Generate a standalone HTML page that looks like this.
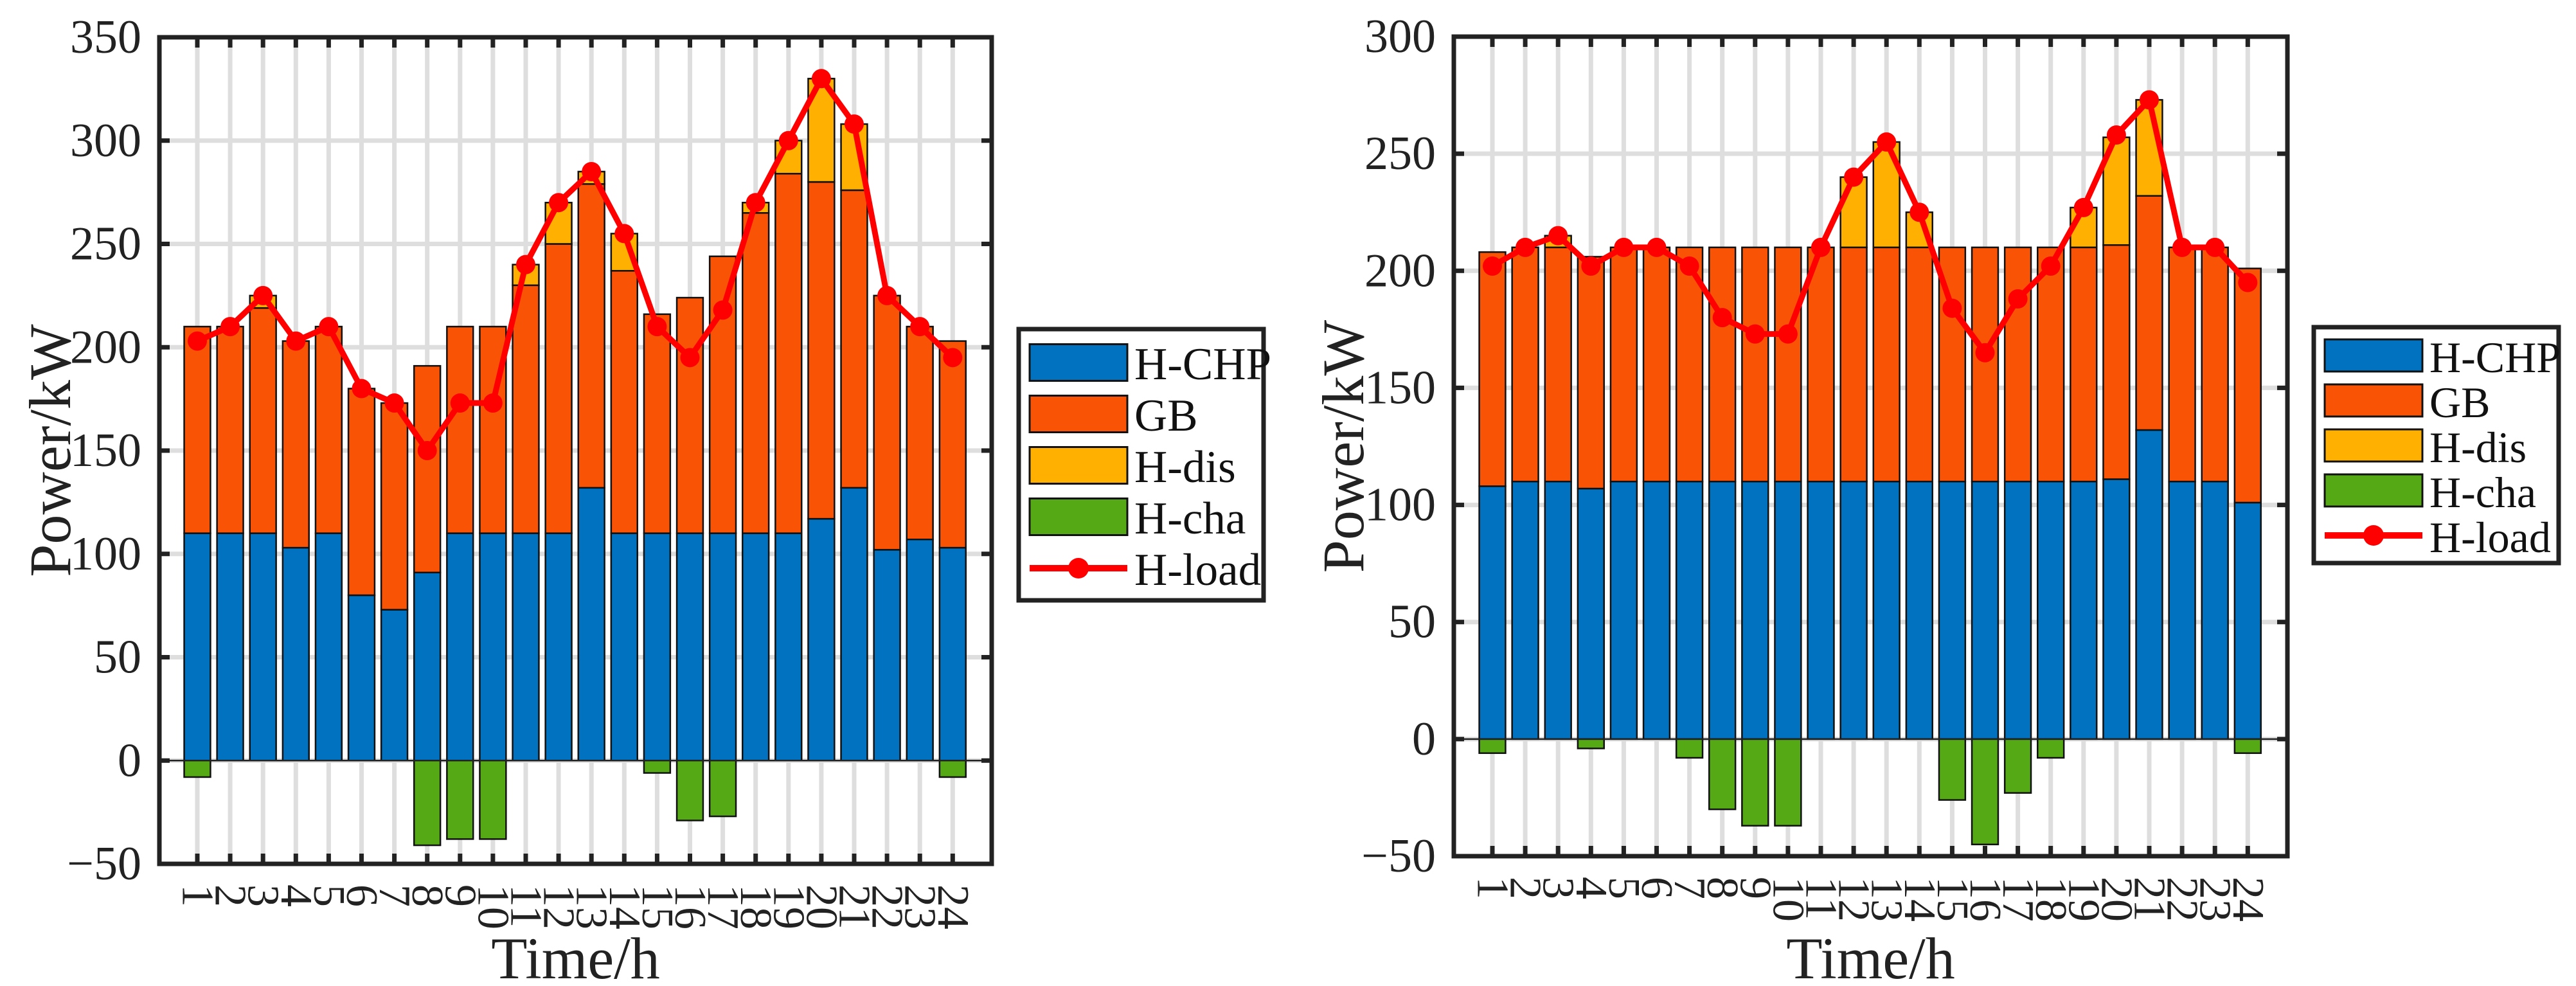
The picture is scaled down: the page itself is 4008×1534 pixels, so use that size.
<!DOCTYPE html>
<html><head><meta charset="utf-8"><style>
html,body{margin:0;padding:0;background:#fff;}
svg{display:block;font-family:"Liberation Serif",serif;}
</style></head><body>
<svg id="fig" width="4008" height="1534" xmlns="http://www.w3.org/2000/svg"></svg>
<script>
const hours = [1,2,3,4,5,6,7,8,9,10,11,12,13,14,15,16,17,18,19,20,21,22,23,24];
const seriesNames = ["H-CHP","GB","H-dis","H-cha","H-load"];
// Left chart
const chpA = [110,110,110,103,110,80,73,91,110,110,110,110,132,110,110,110,110,110,110,117,132,102,107,103];
const gbA  = [100,100,109,100,100,100,100,100,100,100,120,140,147,127,106,114,134,155,174,163,144,123,103,100];
const disA = [0,0,6,0,0,0,0,0,0,0,10,20,6,18,0,0,0,5,16,50,32,0,0,0];
const chaA = [-8,0,0,0,0,0,0,-41,-38,-38,0,0,0,0,-6,-29,-27,0,0,0,0,0,0,-8];
const loadA = [203,210,225,203,210,180,173,150,173,173,240,270,285,255,210,195,218,270,300,330,308,225,210,195];
const yTicksA = [-50,0,50,100,150,200,250,300,350];
// Right chart
const chpB = [108,110,110,107,110,110,110,110,110,110,110,110,110,110,110,110,110,110,110,111,132,110,110,101];
const gbB  = [100,100,100,99,100,100,100,100,100,100,100,100,100,100,100,100,100,100,100,100,100,100,100,100];
const disB = [0,0,5,0,0,0,0,0,0,0,0,30,45,15,0,0,0,0,17,46,41,0,0,0];
const chaB = [-6,0,0,-4,0,0,-8,-30,-37,-37,0,0,0,0,-26,-45,-23,-8,0,0,0,0,0,-6];
const loadB = [202,210,215,202,210,210,202,180,173,173,210,240,255,225,184,165,188,202,227,258,273,210,210,195];
const yTicksB = [-50,0,50,100,150,200,250,300];

const NS="http://www.w3.org/2000/svg";
const svg=document.getElementById('fig');
const colors=["#0072BF","#F95306","#FFB000","#54A915","#FF0000"];
function mk(tag,attrs,parent){const e=document.createElementNS(NS,tag);for(const k in attrs)e.setAttribute(k,attrs[k]);(parent||svg).appendChild(e);return e;}

function drawChart(cfg){
  const g=mk('g',{});
  
  
  const L=cfg.left,R=cfg.right,T=cfg.top,B=cfg.bottom;
  const ymin=cfg.yTicks[0],ymax=cfg.yTicks[cfg.yTicks.length-1];
  const y=v=>B-(v-ymin)/(ymax-ymin)*(B-T);
  const x=h=>cfg.x1+(h-1)*cfg.dx;
  const bw=cfg.dx*0.8;
  cfg.yTicks.forEach(t=>{ if(t===ymin||t===ymax) return;
    const l=mk('line',{x1:L,x2:R,y1:y(t),y2:y(t),stroke:'#dedede','stroke-width':7},g);
    
    
  });
  hours.forEach(h=>{
    const l=mk('line',{x1:x(h),x2:x(h),y1:T,y2:B,stroke:'#dedede','stroke-width':7},g);
    
    
  });
  hours.forEach((h,i)=>{
    const segs=[[0,cfg.chp[i],0],[cfg.chp[i],cfg.chp[i]+cfg.gb[i],1],[cfg.chp[i]+cfg.gb[i],cfg.chp[i]+cfg.gb[i]+cfg.dis[i],2],[cfg.cha[i],0,3]];
    segs.forEach(s=>{ if(s[1]-s[0]<=0) return;
      const r=mk('rect',{x:x(h)-bw/2,y:y(s[1]),width:bw,height:y(s[0])-y(s[1]),fill:colors[s[2]],stroke:'#111','stroke-width':2.5},g);
      
      
    });
  });
  const z=mk('line',{x1:L,x2:R,y1:y(0),y2:y(0),stroke:'#222','stroke-width':2.5},g);
  
  
  const pl=mk('polyline',{points:hours.map((h,i)=>x(h)+','+y(cfg.load[i])).join(' '),fill:'none',stroke:colors[4],'stroke-width':9,'stroke-linejoin':'round'},g);
  
  
  hours.forEach((h,i)=>{
    const c=mk('circle',{cx:x(h),cy:y(cfg.load[i]),r:15,fill:colors[4]},g);
    
    
  });
  const box=mk('rect',{x:L,y:T,width:R-L,height:B-T,fill:'none',stroke:'#222','stroke-width':7},g);
  
  
  cfg.yTicks.forEach(t=>{
    mk('line',{x1:L,x2:L+16,y1:y(t),y2:y(t),stroke:'#222','stroke-width':7},g);
    mk('line',{x1:R-16,x2:R,y1:y(t),y2:y(t),stroke:'#222','stroke-width':7},g);
    const tx=mk('text',{x:L-28,y:y(t),'text-anchor':'end','dominant-baseline':'central','font-size':74,fill:'#222'},g);
    tx.textContent=(t<0?'\u2212'+(-t):t);
    
    
  });
  hours.forEach(h=>{
    mk('line',{x1:x(h),x2:x(h),y1:B,y2:B-16,stroke:'#222','stroke-width':7},g);
    mk('line',{x1:x(h),x2:x(h),y1:T,y2:T+16,stroke:'#222','stroke-width':7},g);
    const tx=mk('text',{x:0,y:0,transform:`translate(${x(h)},${B+32}) rotate(90)`,'text-anchor':'start','dominant-baseline':'central','font-size':70,fill:'#222'},g);
    tx.textContent=h;
    
    
  });
  const yl=mk('text',{x:0,y:0,transform:`translate(${cfg.ylabX},${(T+B)/2}) rotate(-90)`,'text-anchor':'middle','dominant-baseline':'central','font-size':92,fill:'#222'},g);
  yl.textContent='Power/kW';
  
  
  const xl=mk('text',{x:(L+R)/2,y:1522,'text-anchor':'middle','font-size':92,fill:'#222'},g);
  xl.textContent='Time/h';
  
  
  const lg=mk('g',{},g);
  
  
  const lb=cfg.legend;
  mk('rect',{x:lb.x,y:lb.y,width:lb.w,height:lb.h,fill:'#fff',stroke:'#222','stroke-width':7},lg);
  seriesNames.forEach((n,k)=>{
    const cy=lb.y+lb.first+k*lb.step;
    const e=mk('g',{},lg);
    
    
    if(k<4){
      mk('rect',{x:lb.x+17,y:cy-lb.sh/2,width:152,height:lb.sh,fill:colors[k],stroke:'#111','stroke-width':3},e);
    } else {
      mk('line',{x1:lb.x+17,x2:lb.x+169,y1:cy,y2:cy,stroke:colors[4],'stroke-width':10},e);
      mk('circle',{cx:lb.x+93,cy:cy,r:16,fill:colors[4]},e);
    }
    const t=mk('text',{x:lb.x+180,y:cy+3,'dominant-baseline':'central','font-size':lb.fs,fill:'#111'},e);
    t.textContent=n;
  });
}
drawChart({name:'left-chart',left:248,right:1543,top:58,bottom:1344,x1:307,dx:51.1,yTicks:yTicksA,
  chp:chpA,gb:gbA,dis:disA,cha:chaA,load:loadA,ylabX:78,
  legend:{x:1585,y:512,w:381,h:422,first:52,step:80,sh:57,fs:71}});
drawChart({name:'right-chart',left:2262,right:3559,top:57,bottom:1332,x1:2322,dx:51.1,yTicks:yTicksB,
  chp:chpB,gb:gbB,dis:disB,cha:chaB,load:loadB,ylabX:2090,
  legend:{x:3600,y:509,w:381,h:367,first:44,step:70,sh:50,fs:68}});
</script>
</body></html>
